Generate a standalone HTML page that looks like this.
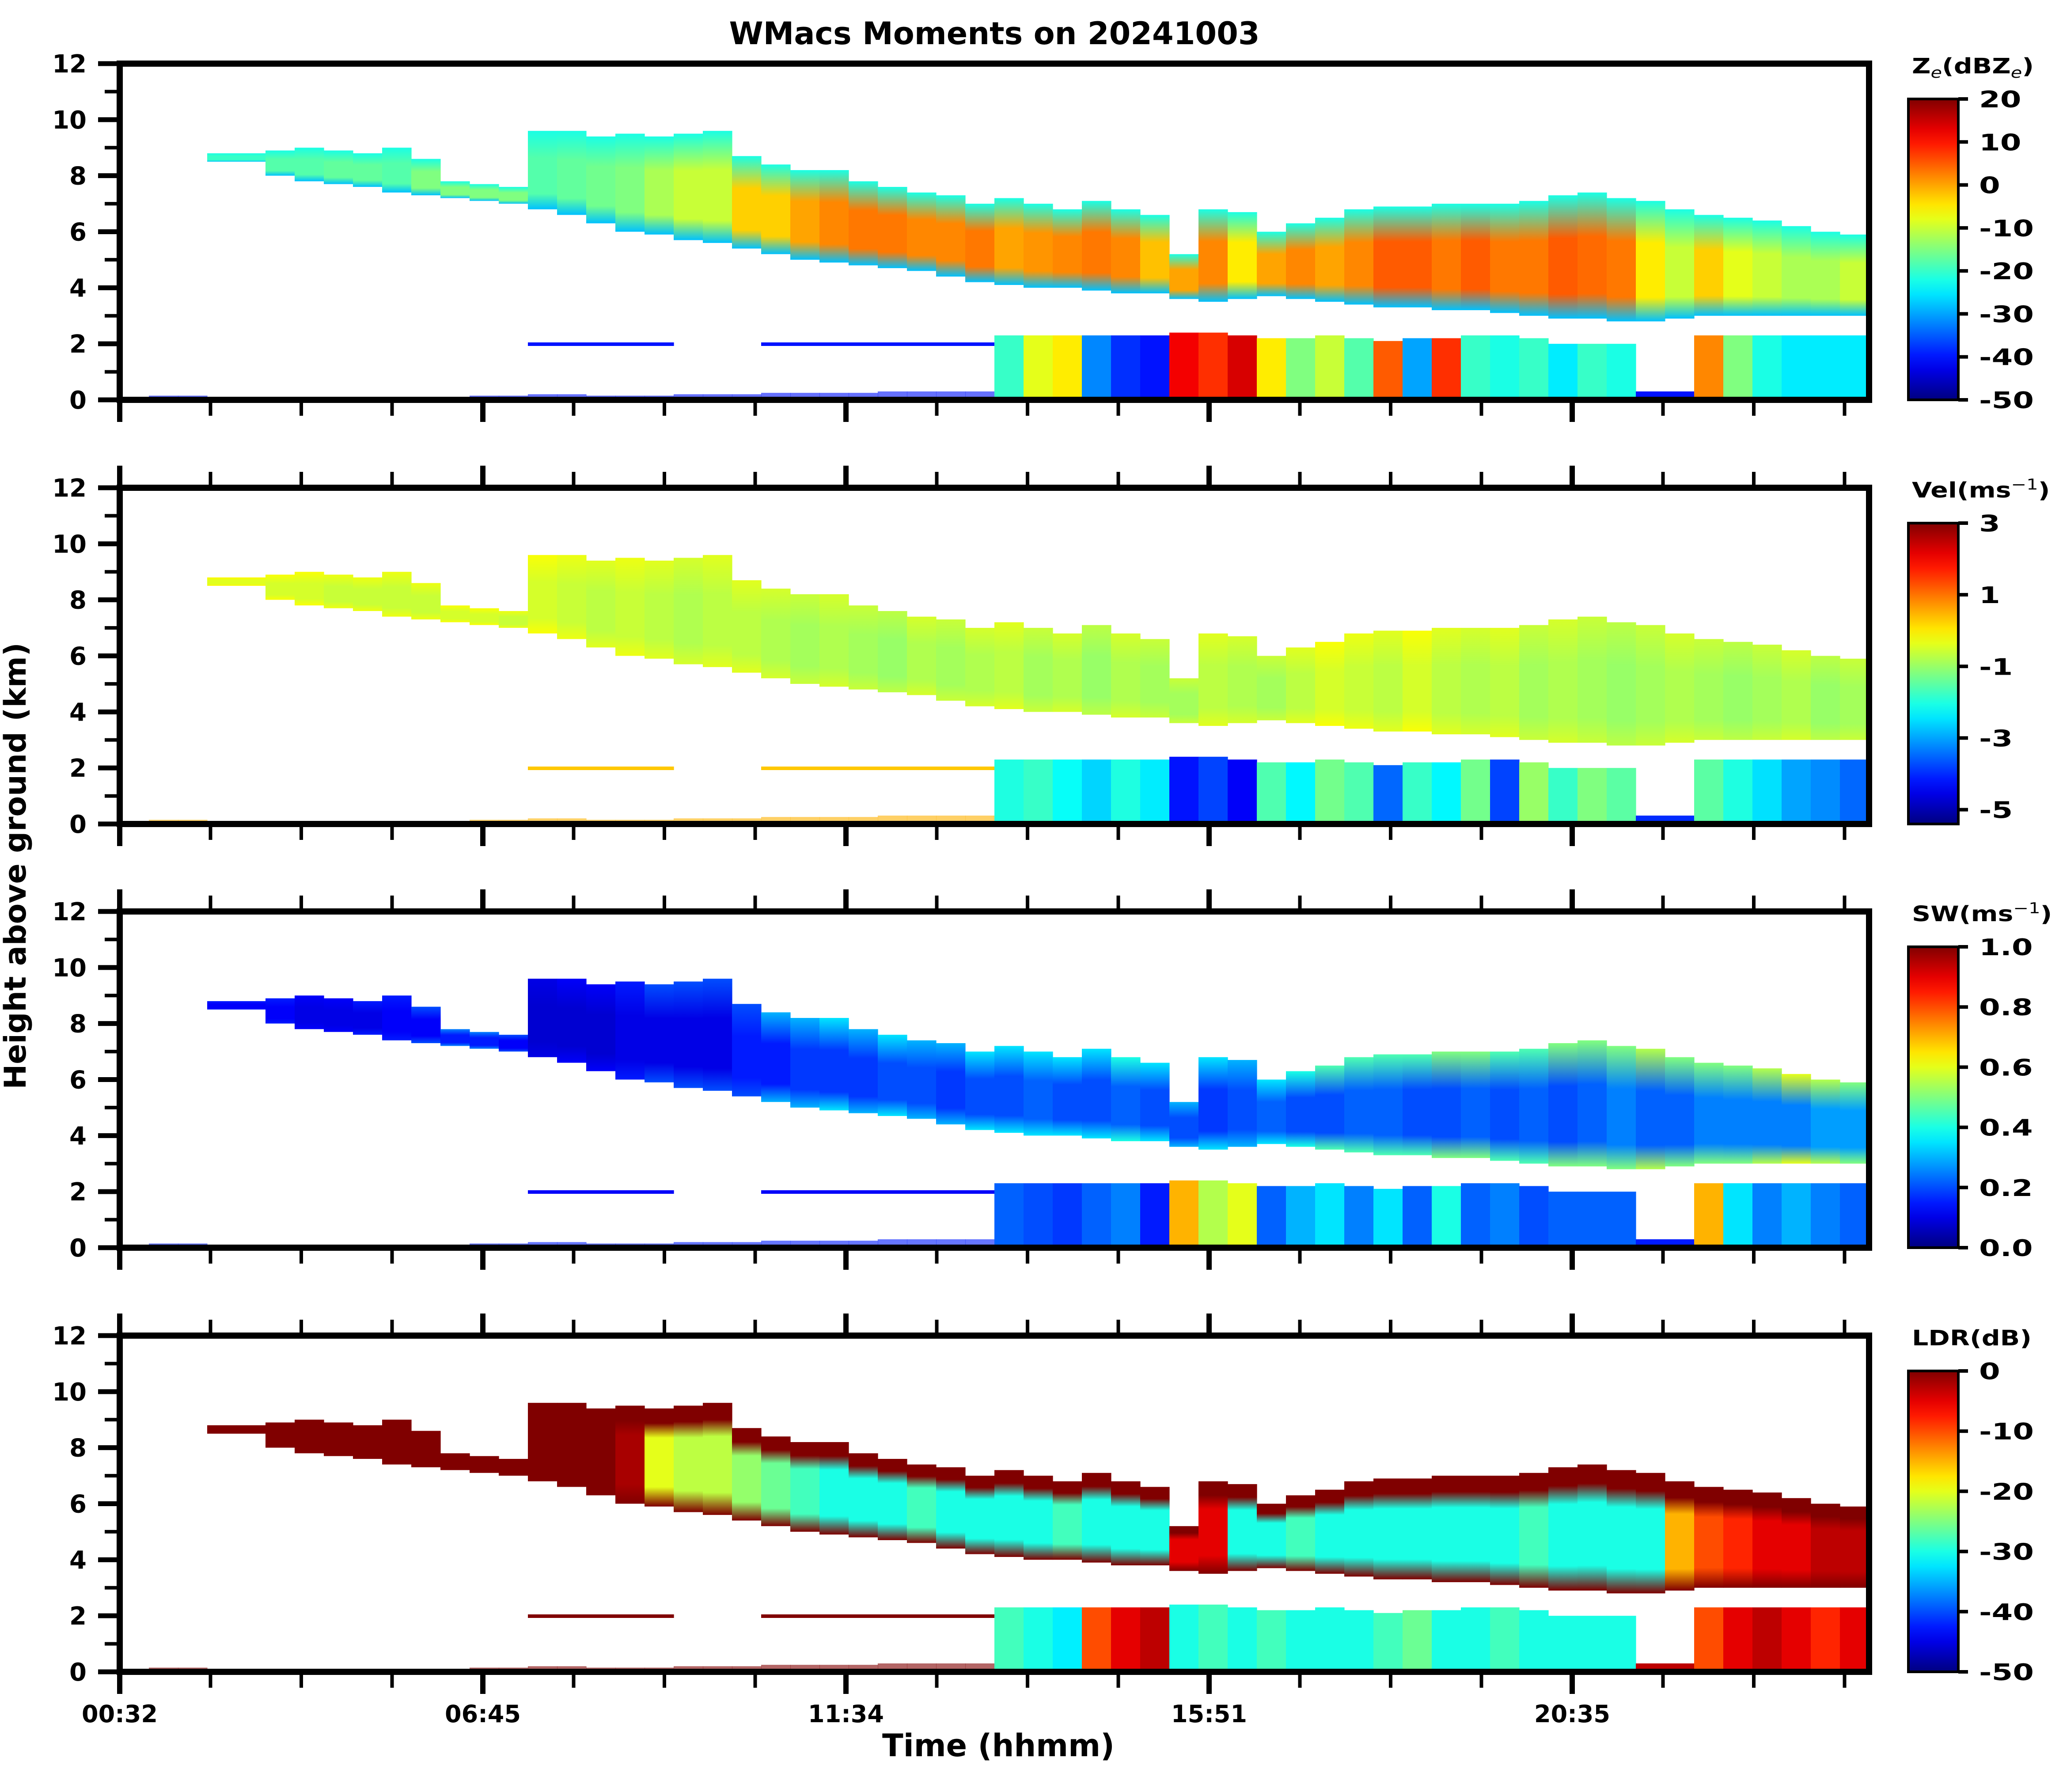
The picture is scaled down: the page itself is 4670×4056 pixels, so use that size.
<!DOCTYPE html>
<html><head><meta charset="utf-8"><title>WMacs Moments on 20241003</title>
<style>
html,body{margin:0;padding:0;background:#fff;}
svg{display:block;font-family:"DejaVu Sans","Liberation Sans",sans-serif;font-weight:bold;}
</style></head>
<body>
<svg id="fig" xmlns="http://www.w3.org/2000/svg" width="4670" height="4056" viewBox="0 0 4670 4056">
<defs id="defs"></defs>
<text x="2251" y="100" font-size="70" text-anchor="middle">WMacs Moments on 20241003</text>
<text x="0" y="0" font-size="68" text-anchor="middle" transform="translate(58,1960) rotate(-90)">Height above ground (km)</text>
<text x="2260" y="3975" font-size="70" text-anchor="middle">Time (hhmm)</text>
<g id="plots"></g>
</svg>
<script>
// ---------- data (60 time columns) ----------
const timeLabels = ["00:32","06:45","11:34","15:51","20:35"];
const heightTicks = [0,2,4,6,8,10,12];
const cloudTop = [0,0,0,8.8,8.8,8.9,9.0,8.9,8.8,9.0,8.6,7.8,7.7,7.6,9.6,9.6,9.4,9.5,9.4,9.5,9.6,8.7,8.4,8.2,8.2,7.8,7.6,7.4,7.3,7.0,7.2,7.0,6.8,7.1,6.8,6.6,5.2,6.8,6.7,6.0,6.3,6.5,6.8,6.9,6.9,7.0,7.0,7.0,7.1,7.3,7.4,7.2,7.1,6.8,6.6,6.5,6.4,6.2,6.0,5.9];
const cloudBase = [0,0,0,8.5,8.5,8.0,7.8,7.7,7.6,7.4,7.3,7.2,7.1,7.0,6.8,6.6,6.3,6.0,5.9,5.7,5.6,5.4,5.2,5.0,4.9,4.8,4.7,4.6,4.4,4.2,4.1,4.0,4.0,3.9,3.8,3.8,3.6,3.5,3.6,3.7,3.6,3.5,3.4,3.3,3.3,3.2,3.2,3.1,3.0,2.9,2.9,2.8,2.8,2.9,3.0,3.0,3.0,3.0,3.0,3.0];
const zeCore = [0,0,0,-20,-20,-18,-18,-17,-17,-18,-15,-15,-15,-15,-18,-17,-16,-15,-12,-10,-10,-3,-3,0,2,3,3,2,2,3,0,1,2,3,2,-2,0,2,-5,0,2,0,2,5,5,3,5,3,3,5,4,3,-5,-10,-3,-8,-10,-12,-12,-10];
const lowTop = [0,0,0,0,0,0,0,0,0,0,0,0,0,0,0,0,0,0,0,0,0,0,0,0,0,0,0,0,0,0,2.3,2.3,2.3,2.3,2.3,2.3,2.4,2.4,2.3,2.2,2.2,2.3,2.2,2.1,2.2,2.2,2.3,2.3,2.2,2.0,2.0,2.0,0.3,0.3,2.3,2.3,2.3,2.3,2.3,2.3];
const zeLow = [0,0,0,0,0,0,0,0,0,0,0,0,0,0,0,0,0,0,0,0,0,0,0,0,0,0,0,0,0,0,-20,-8,-5,-32,-38,-40,12,8,14,-5,-15,-10,-18,5,-30,8,-20,-22,-20,-25,-20,-22,-40,-40,2,-15,-22,-25,-25,-25];
const velUpper = [0,0,0,-0.4,-0.4,-0.5,-0.5,-0.6,-0.6,-0.6,-0.6,-0.5,-0.5,-0.6,-0.5,-0.6,-0.7,-0.6,-0.7,-0.8,-0.7,-0.7,-0.8,-0.9,-0.8,-0.9,-1.0,-0.8,-0.9,-0.8,-0.7,-0.9,-0.8,-1.0,-0.8,-0.9,-0.9,-0.7,-0.8,-0.9,-0.7,-0.5,-0.6,-0.7,-0.5,-0.7,-0.8,-0.7,-0.9,-0.8,-0.9,-1.0,-0.9,-0.8,-0.9,-1.0,-0.9,-0.8,-1.0,-0.9];
const velLow = [0,0,0,0,0,0,0,0,0,0,0,0,0,0,0,0,0,0,0,0,0,0,0,0,0,0,0,0,0,0,-2.0,-1.8,-2.2,-2.6,-2.0,-2.4,-4.2,-3.8,-4.4,-1.6,-2.3,-1.3,-1.6,-3.5,-1.8,-2.3,-1.3,-3.8,-1.0,-1.8,-1.2,-1.5,-4.0,-4.0,-1.5,-2.0,-2.5,-3.0,-3.2,-3.5];
const swUpper = [0,0,0,0.12,0.12,0.12,0.1,0.1,0.1,0.12,0.12,0.15,0.15,0.12,0.08,0.08,0.08,0.1,0.1,0.1,0.1,0.15,0.15,0.18,0.18,0.18,0.2,0.2,0.18,0.2,0.2,0.22,0.2,0.2,0.22,0.2,0.2,0.18,0.2,0.22,0.2,0.2,0.22,0.22,0.2,0.2,0.22,0.2,0.22,0.2,0.22,0.25,0.22,0.22,0.25,0.25,0.25,0.25,0.28,0.28];
const swTop = [0,0,0,0.15,0.15,0.15,0.12,0.12,0.15,0.15,0.2,0.25,0.25,0.2,0.1,0.12,0.12,0.15,0.2,0.2,0.2,0.2,0.3,0.3,0.35,0.3,0.35,0.3,0.3,0.35,0.35,0.35,0.35,0.35,0.4,0.35,0.3,0.35,0.3,0.35,0.4,0.45,0.45,0.45,0.45,0.5,0.5,0.45,0.45,0.5,0.5,0.5,0.55,0.5,0.5,0.5,0.55,0.6,0.55,0.5];
const swLow = [0,0,0,0,0,0,0,0,0,0,0,0,0,0,0,0,0,0,0,0,0,0,0,0,0,0,0,0,0,0,0.22,0.2,0.18,0.22,0.25,0.15,0.7,0.55,0.6,0.22,0.3,0.35,0.25,0.35,0.22,0.4,0.22,0.25,0.2,0.22,0.22,0.22,0.15,0.15,0.7,0.35,0.25,0.3,0.25,0.22];
const ldrCore = [0,0,0,0,0,0,0,0,0,0,0,0,0,0,0,0,0,-2,-20,-22,-22,-24,-26,-28,-30,-30,-30,-28,-30,-30,-30,-30,-28,-30,-30,-30,-5,-5,-30,-30,-28,-30,-30,-30,-30,-30,-30,-30,-28,-30,-30,-30,-30,-15,-10,-8,-5,-5,-3,-3];
const ldrLow = [0,0,0,0,0,0,0,0,0,0,0,0,0,0,0,0,0,0,0,0,0,0,0,0,0,0,0,0,0,0,-28,-30,-32,-10,-5,-3,-30,-28,-30,-28,-30,-30,-30,-28,-26,-30,-30,-28,-30,-30,-30,-30,-3,-3,-10,-5,-3,-5,-8,-5];
const thinLine2km = [0,0,0,0,0,0,0,0,0,0,0,0,0,0,1,1,1,1,1,0,0,0,1,1,1,1,1,1,1,1,0,0,0,0,0,0,0,0,0,0,0,0,0,0,0,0,0,0,0,0,0,0,0,0,0,0,0,0,0,0];
const surfaceLayer = [0,0.15,0.15,0.1,0.05,0.05,0,0,0,0,0.1,0.1,0.15,0.15,0.2,0.2,0.15,0.15,0.15,0.2,0.2,0.2,0.25,0.25,0.25,0.25,0.3,0.3,0.3,0.3,0,0,0,0,0,0,0,0,0,0,0,0,0,0,0,0,0,0,0,0,0,0,0,0,0,0,0,0,0,0];

// ---------- geometry ----------
const L=271, R=4231, H=761, NC=60;
const TOPS=[144,1104,2063,3023];
const xCol = i => L + i*(R-L)/NC;
const xMinor = k => L + k*205.5;

function jet(t){
  t=Math.max(0,Math.min(1,t));
  const f=(x)=>Math.max(0,Math.min(1,x));
  const r=f(1.5-Math.abs(4*t-3)), g=f(1.5-Math.abs(4*t-2)), b=f(1.5-Math.abs(4*t-1));
  return `rgb(${Math.round(r*255)},${Math.round(g*255)},${Math.round(b*255)})`;
}
const NS="http://www.w3.org/2000/svg";
const defs=document.getElementById('defs');
const plots=document.getElementById('plots');
function mk(tag,attrs,parent){const e=document.createElementNS(NS,tag);for(const k in attrs)e.setAttribute(k,attrs[k]);(parent||plots).appendChild(e);return e;}

const panels=[
 {key:'ze',label:['Z','e','(dBZ','e',')'],vmin:-50,vmax:20,ticks:[20,10,0,-10,-20,-30,-40,-50],fmt:v=>String(v),
  upTop:i=>-22, upCore:i=>zeCore[i], low:i=>zeLow[i], line:-40, surf:-40},
 {key:'vel',label:['Vel(ms',null,'−1',null,')'],vmin:-5.4,vmax:3,ticks:[3,1,-1,-3,-5],fmt:v=>String(v),
  upTop:i=>velUpper[i]+0.3, upCore:i=>velUpper[i], low:i=>velLow[i], line:0.3, surf:0.5},
 {key:'sw',label:['SW(ms',null,'−1',null,')'],vmin:0,vmax:1,ticks:[1,0.8,0.6,0.4,0.2,0],fmt:v=>v.toFixed(1),
  upTop:i=>swTop[i], upCore:i=>swUpper[i], low:i=>swLow[i], line:0.12, surf:0.15},
 {key:'ldr',label:['LDR(dB)',null,null,null,null],vmin:-50,vmax:0,ticks:[0,-10,-20,-30,-40,-50],fmt:v=>String(v),
  upTop:i=>0, upCore:i=>ldrCore[i], low:i=>ldrLow[i], line:0, surf:0}
];

panels.forEach((p,pi)=>{
  const T=TOPS[pi], B=T+H;
  const yH=h=>T+H*(1-h/12);
  const norm=v=>(v-p.vmin)/(p.vmax-p.vmin);
  const g=mk('g',{});
  
  
  const cp=mk('clipPath',{id:'clip'+pi},defs);
  mk('rect',{x:L,y:T,width:R-L,height:H},cp);
  const data=mk('g',{'clip-path':`url(#clip${pi})`},g);
  
  
  const w=(R-L)/NC+0.6;
  for(let i=0;i<NC;i++){
    if(cloudTop[i]>0){
      const gid=`gr${pi}_${i}`;
      const lg=mk('linearGradient',{id:gid,x1:0,y1:0,x2:0,y2:1},defs);
      const topStop = p.key==='ldr' ? 0.3 : 0.35;
      mk('stop',{offset:'0','stop-color':jet(norm(p.upTop(i)))},lg);
      if(p.key==='ldr') mk('stop',{offset:'0.15','stop-color':jet(norm(0))},lg);
      mk('stop',{offset:topStop,'stop-color':jet(norm(p.upCore(i)))},lg);
      mk('stop',{offset:'0.8','stop-color':jet(norm(p.upCore(i)))},lg);
      mk('stop',{offset:'1','stop-color':jet(norm(p.key==='ze'?-28:p.upTop(i)))},lg);
      const r=mk('rect',{x:xCol(i),y:yH(cloudTop[i]),width:w,height:yH(cloudBase[i])-yH(cloudTop[i]),fill:`url(#${gid})`},data);
      
      
    }
    if(lowTop[i]>0){
      const r=mk('rect',{x:xCol(i),y:yH(lowTop[i]),width:w,height:yH(0)-yH(lowTop[i]),fill:jet(norm(p.low(i)))},data);
      
      
    }
    if(thinLine2km[i]){
      const r=mk('rect',{x:xCol(i),y:yH(2.05),width:w,height:8,fill:jet(norm(p.line))},data);
      
      
    }
    if(surfaceLayer[i]>0){
      const r=mk('rect',{x:xCol(i),y:yH(surfaceLayer[i]),width:w,height:yH(0)-yH(surfaceLayer[i]),fill:jet(norm(p.surf)),opacity:0.6},data);
      
      
    }
  }
  const fr=mk('rect',{x:L,y:T,width:R-L,height:H,fill:'none',stroke:'#000','stroke-width':14},g);
  
  
  for(let h=0;h<=12;h++){
    const major=h%2===0;
    mk('line',{x1:L-(major?49:34),x2:L,y1:yH(h),y2:yH(h),stroke:'#000','stroke-width':major?11:8},g);
  }
  heightTicks.forEach(h=>{
    const t=mk('text',{x:196,y:yH(h)+20,'font-size':56,'text-anchor':'end'},g);
    t.textContent=String(h);
    
    
  });
  for(let k=0;k<20;k++){
    const major=k%4===0, x=xMinor(k);
    const len=major?50:36;
    mk('line',{x1:x,x2:x,y1:B,y2:B+len,stroke:'#000','stroke-width':major?12:8},g);
    if(pi>0) mk('line',{x1:x,x2:x,y1:T,y2:T-len,stroke:'#000','stroke-width':major?12:8},g);
  }
  if(pi===3){
    timeLabels.forEach((s,j)=>{
      const t=mk('text',{x:xMinor(j*4),y:3898,'font-size':54,'text-anchor':'middle'},g);
      t.textContent=s;
      
      
    });
  }
  const cx0=4320,cx1=4433,cT=T+80,cB=B;
  const cg=mk('linearGradient',{id:'cb'+pi,x1:0,y1:1,x2:0,y2:0},defs);
  for(let s=0;s<=20;s++){mk('stop',{offset:s/20,'stop-color':jet(s/20)},cg);}
  const cb=mk('rect',{x:cx0,y:cT,width:cx1-cx0,height:cB-cT,fill:`url(#cb${pi})`,stroke:'#000','stroke-width':6},g);
  
  
  p.ticks.forEach(v=>{
    const y=cB-(cB-cT)*norm(v);
    mk('line',{x1:cx1,x2:cx1+22,y1:y,y2:y,stroke:'#000','stroke-width':8},g);
    const t=mk('text',{x:0,y:0,'font-size':52,transform:`translate(4480,${y+19}) scale(1.32,1)`},g);
    t.textContent=p.fmt(v);
    
    
  });
  const lt=mk('text',{x:0,y:0,'font-size':48,transform:`translate(4328,${T+22}) scale(1.22,1)`},g);
  
  
  const [a,sub1,b,sub2,c]=p.label;
  const t1=mk('tspan',{},lt); t1.textContent=a;
  if(p.key==='ze'){
    const s1=mk('tspan',{dy:10,'font-size':34,'font-style':'italic','font-weight':'normal'},lt); s1.textContent=sub1;
    const t2=mk('tspan',{dy:-10},lt); t2.textContent=b;
    const s2=mk('tspan',{dy:10,'font-size':34,'font-style':'italic','font-weight':'normal'},lt); s2.textContent=sub2;
    const t3=mk('tspan',{dy:-10},lt); t3.textContent=c;
  } else if(b){
    const s=mk('tspan',{dy:-18,'font-size':34,'font-weight':'normal'},lt); s.textContent=b;
    const t3=mk('tspan',{dy:18},lt); t3.textContent=c;
  }
});
</script>
</body></html>
